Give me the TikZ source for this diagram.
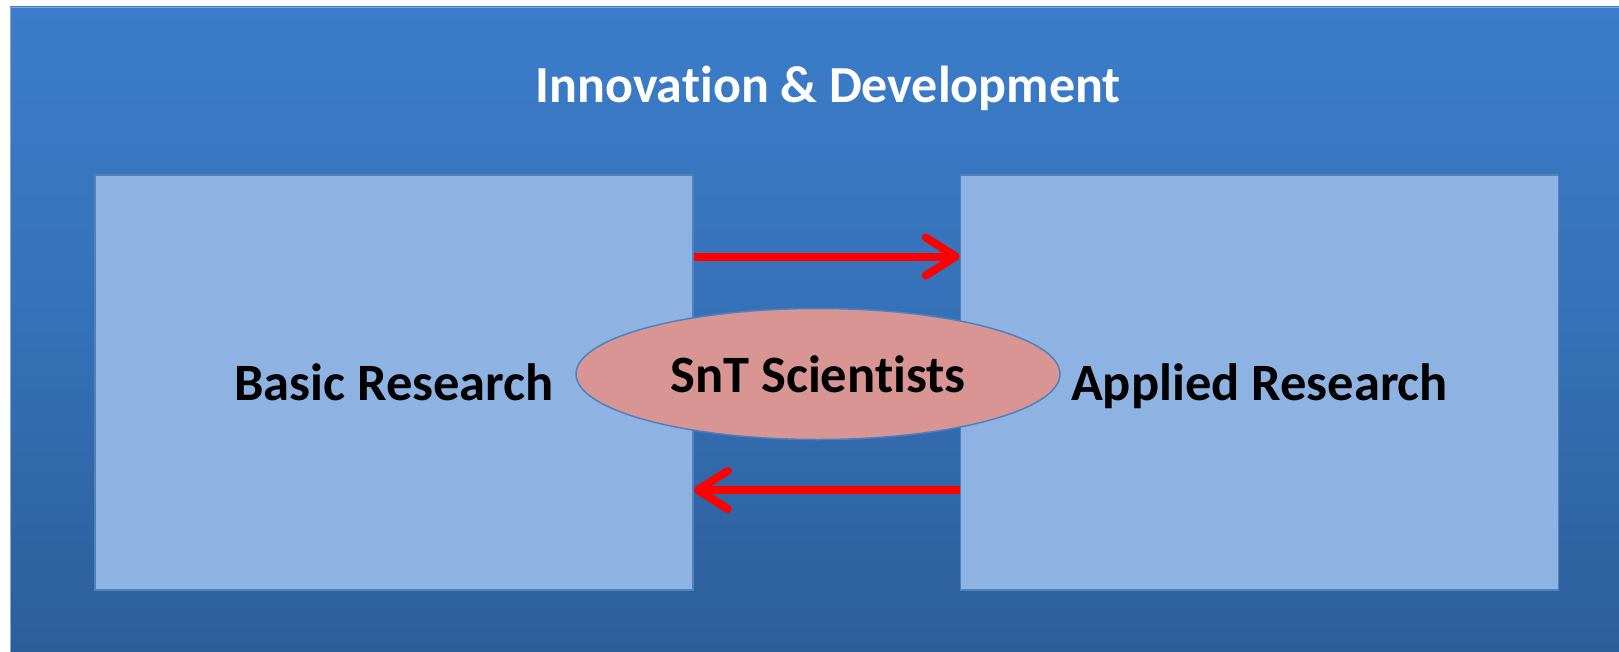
\documentclass[tikz,border=0pt]{standalone}
\usepackage{fontspec}
\setmainfont{Carlito}[Ligatures=NoCommon]
\usetikzlibrary{arrows.meta,shapes.geometric,calc}
\definecolor{bgtop}{RGB}{59,125,202}
\definecolor{bgbot}{RGB}{44,94,154}
\definecolor{boxfill}{RGB}{142,179,227}
\definecolor{boxline}{RGB}{79,129,189}
\definecolor{ellfill}{RGB}{217,149,148}
\definecolor{arrred}{RGB}{255,0,0}
\tikzset{
  resbox/.style={draw=boxline, line width=1.5bp, fill=boxfill, minimum width=598bp, minimum height=415bp, inner sep=0pt,
    text depth=0pt, font=\fontsize{52.5bp}{62bp}\selectfont\bfseries, text=black},
  scient/.style={ellipse, draw=boxline, line width=1.5bp, fill=ellfill, minimum width=484bp, minimum height=131bp, inner sep=0pt,
    font=\fontsize{52.5bp}{62bp}\selectfont\bfseries, text=black},
  redarrow/.style={draw=arrred, line width=8bp, -{Straight Barb[length=30bp, width=38bp, round]}},
  titletext/.style={text=white, font=\fontsize{52bp}{62bp}\selectfont\bfseries}
}
\begin{document}
\begin{tikzpicture}[x=1bp,y=-1bp]
\useasboundingbox (0,0) rectangle (1619,652);
\fill[white] (0,0) rectangle (1619,652);
\shade[top color=bgtop, bottom color=bgbot, middle color=bgtop!60!bgbot] (10,7) rectangle (1619,652);
\draw[boxline!70!white, line width=1bp] (10.5,652) -- (10.5,7.5) -- (1619,7.5);
\node[titletext] (title) at (828,88) {Innovation \& Development};
\node[resbox] (lb) at (394,382.5) {Basic Research};
\node[resbox] (rb) at (1259.5,382.5) {Applied Research};
\node[scient] (ell) at (818,374) {SnT Scientists};
\draw[redarrow] ($(lb.east)+(0,-126)$) -- ($(rb.west)+(0,-126)$);
\draw[redarrow] ($(rb.west)+(0,107.5)$) -- ($(lb.east)+(0,107.5)$);
\end{tikzpicture}
\end{document}
